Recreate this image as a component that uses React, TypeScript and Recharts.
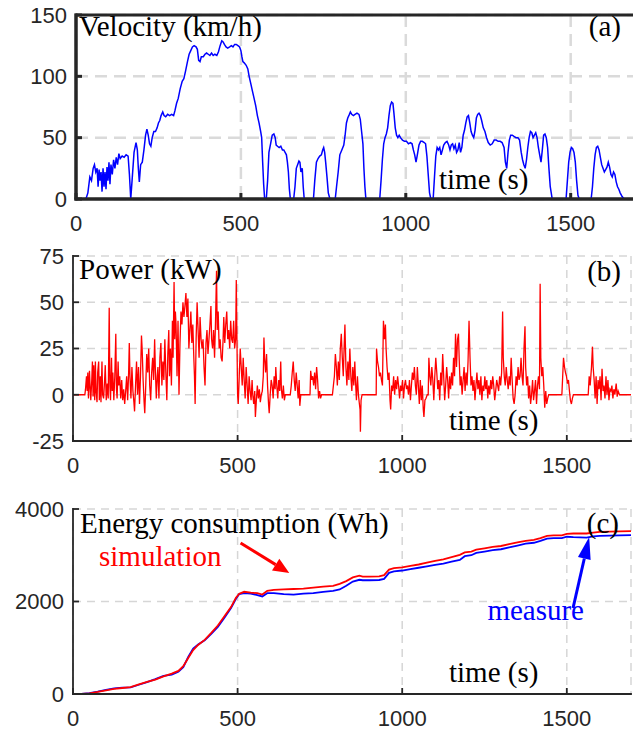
import React from 'react';
import { LineChart, Line, XAxis, YAxis, CartesianGrid, ReferenceLine, ReferenceArea } from 'recharts';

// ---------- axes / ticks ----------
const X_TICKS = [0, 500, 1000, 1500];
const X_MAX = 1695;
const VEL_TICKS = [0, 50, 100, 150];
const POW_TICKS = [-25, 0, 25, 50, 75];
const ENERGY_TICKS = [0, 2000, 4000];

// ---------- velocity (time s, km/h) ----------
const velocity: [number, number][] = [
  [0,0],[30,0],[36,5],[42,18],[47,15],[52,25],[56,28],[60,22],[64,25],[67,10],[70,24],[73,15],[76,22],[79,6],[82,25],[85,10],[88,22],[91,8],[94,26],[97,15],[100,30],[103,12],[106,28],[110,20],[114,32],[118,25],[122,34],[126,28],[130,37],[134,33],[140,35],[146,34],[152,36],[158,35],[162,20],[166,0],[170,15],[176,38],[182,46],[186,40],[189,25],[192,14],[196,28],[201,30],[206,40],[211,52],[215,57],[219,52],[223,45],[227,43],[231,50],[236,55],[241,55],[246,58],[250,62],[254,64],[258,68],[263,71],[267,68],[272,67],[278,69],[284,68],[290,69],[296,68],[300,72],[305,78],[310,82],[316,90],[322,96],[327,98],[332,104],[338,112],[343,118],[348,121],[353,124],[358,125],[364,124],[368,122],[372,113],[376,112],[380,116],[386,116],[391,118],[396,119],[401,118],[406,117],[411,119],[416,117],[421,118],[427,117],[432,120],[437,125],[442,129],[446,128],[450,126],[455,124],[460,123],[466,124],[471,125],[476,124],[481,126],[486,126],[491,125],[496,124],[500,121],[503,116],[506,112],[510,111],[516,109],[521,106],[525,100],[530,94],[535,88],[540,82],[545,76],[550,68],[555,62],[560,55],[563,50],[566,30],[569,12],[572,0],[577,0],[581,15],[585,38],[590,45],[595,52],[600,53],[604,50],[607,44],[611,43],[616,42],[621,43],[626,40],[630,40],[634,38],[638,36],[641,30],[644,22],[647,8],[650,0],[660,0],[664,10],[668,25],[672,28],[676,31],[679,30],[682,22],[686,25],[689,10],[692,0],[720,0],[724,15],[729,30],[734,33],[739,35],[744,36],[748,40],[751,42],[754,38],[757,30],[761,18],[765,5],[770,0],[786,0],[790,10],[795,22],[800,36],[806,40],[812,44],[816,52],[820,62],[824,66],[829,69],[832,71],[836,69],[841,68],[846,69],[852,70],[858,69],[862,65],[866,55],[870,45],[873,25],[876,10],[879,0],[921,0],[925,15],[929,32],[933,45],[937,50],[941,53],[945,58],[949,68],[953,76],[957,79],[961,78],[964,70],[968,58],[972,52],[976,50],[980,52],[984,50],[990,48],[996,47],[1002,47],[1008,45],[1014,46],[1019,45],[1023,40],[1027,36],[1031,30],[1035,36],[1040,44],[1045,47],[1050,47],[1056,46],[1060,45],[1064,35],[1068,20],[1072,5],[1076,0],[1083,0],[1087,18],[1091,35],[1095,42],[1099,40],[1103,42],[1107,36],[1111,40],[1115,44],[1120,46],[1125,47],[1130,44],[1134,40],[1138,44],[1142,45],[1146,41],[1150,44],[1154,38],[1158,40],[1162,46],[1166,38],[1170,42],[1174,52],[1178,56],[1182,62],[1186,67],[1190,68],[1194,62],[1198,55],[1202,52],[1206,50],[1210,56],[1214,66],[1218,69],[1222,70],[1226,68],[1230,64],[1235,58],[1240,55],[1245,50],[1250,46],[1256,44],[1262,45],[1268,48],[1274,48],[1280,47],[1286,47],[1292,46],[1298,42],[1302,30],[1306,25],[1310,38],[1314,48],[1318,52],[1323,52],[1328,51],[1334,50],[1340,50],[1345,48],[1350,38],[1354,32],[1358,28],[1362,25],[1366,32],[1370,42],[1374,50],[1378,55],[1382,54],[1386,50],[1390,52],[1394,54],[1398,50],[1402,42],[1406,36],[1410,30],[1414,40],[1418,52],[1422,53],[1426,50],[1430,42],[1434,25],[1438,10],[1444,0],[1486,0],[1490,15],[1494,30],[1498,38],[1502,42],[1506,41],[1510,38],[1514,30],[1518,15],[1522,3],[1526,0],[1562,0],[1566,10],[1570,25],[1574,36],[1578,42],[1582,43],[1586,40],[1590,34],[1594,28],[1598,25],[1602,22],[1606,24],[1610,26],[1614,30],[1618,26],[1622,20],[1626,18],[1630,22],[1634,20],[1638,14],[1642,10],[1646,8],[1650,5],[1656,2],[1662,0],[1695,0]
];

// ---------- power (time s, kW) ----------
const power: [number, number][] = [
  [0,0],[36,0],[38,3],[41,10],[43,2],[45,12],[47,-2],[50,13],[52,4],[54,-3],[57,8],[59,18],[61,-1],[63,16],[66,-3],[68,18],[70,2],[73,-4],[75,12],[78,18],[80,-3],[83,10],[85,-4],[88,18],[90,0],[93,-2],[96,8],[98,16],[101,-3],[104,6],[107,-2],[110,47],[112,5],[114,-3],[117,20],[119,2],[121,12],[124,-3],[127,10],[130,33],[132,3],[134,-2],[137,18],[139,5],[142,10],[145,-2],[148,8],[151,-3],[154,3],[157,-5],[160,2],[163,10],[166,-3],[169,12],[171,28],[173,10],[176,-2],[179,15],[182,2],[185,-4],[187,-9],[190,5],[193,18],[196,0],[199,15],[202,-5],[205,10],[208,32],[210,25],[213,8],[216,-4],[218,-10],[221,5],[224,22],[227,12],[230,25],[233,5],[236,-3],[239,12],[242,20],[245,8],[248,30],[250,15],[253,-2],[256,10],[258,15],[261,-2],[264,20],[267,28],[270,5],[273,18],[276,8],[279,30],[282,12],[285,-3],[288,22],[291,35],[293,10],[296,25],[299,5],[302,40],[304,20],[307,61],[309,30],[311,45],[313,38],[316,10],[319,40],[322,0],[325,28],[328,45],[331,38],[334,50],[337,42],[340,48],[343,55],[346,42],[349,52],[352,25],[355,35],[358,45],[361,28],[364,38],[367,20],[369,10],[371,-5],[374,30],[377,50],[380,35],[383,20],[386,42],[389,30],[392,25],[395,30],[398,15],[401,5],[404,28],[407,35],[410,22],[413,30],[416,38],[419,48],[421,30],[424,25],[427,35],[430,20],[433,40],[436,67],[438,35],[441,45],[444,25],[447,30],[450,20],[453,18],[456,30],[458,42],[461,28],[464,38],[467,45],[470,30],[473,35],[476,25],[479,40],[482,30],[485,28],[488,40],[491,25],[494,30],[496,62],[498,30],[500,0],[502,-5],[505,10],[508,25],[511,15],[514,5],[517,20],[520,8],[523,-2],[526,15],[529,5],[532,-5],[535,10],[538,2],[541,-3],[544,8],[546,0],[549,-5],[552,2],[554,-12],[557,-3],[560,5],[563,-2],[566,3],[569,-4],[572,0],[575,2],[578,10],[580,31],[582,20],[585,12],[588,22],[591,5],[594,-5],[596,-10],[599,0],[602,8],[605,5],[608,-2],[611,10],[614,3],[616,15],[619,5],[622,-2],[625,8],[628,2],[631,18],[633,3],[636,-2],[639,5],[642,-3],[645,0],[660,0],[663,5],[666,12],[669,18],[672,8],[675,2],[678,12],[681,5],[684,-2],[687,8],[689,-6],[692,0],[720,0],[722,13],[725,8],[728,10],[731,5],[734,12],[737,3],[740,15],[743,8],[746,-2],[749,2],[752,-2],[755,0],[788,0],[791,5],[794,10],[797,22],[800,15],[803,5],[806,18],[809,8],[812,25],[815,33],[818,20],[821,10],[824,28],[826,38],[829,15],[832,5],[835,18],[838,8],[841,25],[844,10],[847,2],[850,15],[853,5],[856,18],[858,8],[861,-3],[864,10],[867,0],[870,-5],[872,-8],[873,-20],[875,-3],[878,0],[921,0],[922,25],[925,18],[928,15],[931,10],[934,12],[937,8],[940,5],[943,40],[946,30],[949,38],[951,25],[954,15],[957,8],[960,12],[963,-3],[965,-8],[968,5],[971,2],[974,10],[977,0],[980,8],[983,3],[986,10],[989,5],[992,-2],[995,5],[998,2],[1001,8],[1004,-2],[1007,5],[1010,8],[1013,3],[1016,5],[1019,0],[1022,8],[1025,-3],[1028,5],[1031,12],[1034,8],[1037,15],[1040,5],[1043,0],[1046,15],[1049,5],[1052,-5],[1055,8],[1058,-3],[1061,5],[1064,-8],[1066,-12],[1069,-3],[1072,-2],[1076,0],[1079,0],[1081,20],[1084,10],[1087,5],[1090,15],[1093,8],[1096,-3],[1099,10],[1102,20],[1105,12],[1108,3],[1111,8],[1114,-3],[1117,12],[1120,5],[1123,22],[1126,10],[1129,-3],[1132,5],[1135,15],[1138,8],[1141,-2],[1144,10],[1147,3],[1150,12],[1153,5],[1156,20],[1159,10],[1162,33],[1165,15],[1168,30],[1171,33],[1173,20],[1176,5],[1179,10],[1182,0],[1185,8],[1188,15],[1191,2],[1194,12],[1197,5],[1200,18],[1203,40],[1206,20],[1209,5],[1212,10],[1215,2],[1218,8],[1221,-3],[1224,5],[1227,12],[1230,3],[1233,8],[1236,0],[1239,10],[1242,-3],[1245,5],[1248,2],[1251,10],[1254,3],[1257,8],[1260,-2],[1263,5],[1266,0],[1269,8],[1272,3],[1275,10],[1278,5],[1281,-3],[1284,2],[1287,8],[1290,5],[1293,2],[1296,10],[1299,5],[1302,12],[1305,45],[1307,20],[1310,10],[1313,5],[1316,15],[1319,8],[1322,3],[1325,10],[1328,5],[1331,20],[1334,8],[1337,-2],[1340,-5],[1343,0],[1346,10],[1349,5],[1352,15],[1355,8],[1358,10],[1361,20],[1364,10],[1367,5],[1370,25],[1373,37],[1375,15],[1378,5],[1381,10],[1384,-2],[1387,5],[1390,-5],[1393,0],[1396,8],[1399,-3],[1402,2],[1405,8],[1408,-5],[1411,5],[1414,10],[1417,3],[1419,60],[1421,20],[1424,10],[1427,15],[1430,5],[1433,-7],[1436,2],[1439,-5],[1442,-2],[1445,0],[1485,0],[1488,12],[1490,20],[1493,15],[1496,12],[1499,10],[1502,6],[1505,8],[1508,2],[1511,-3],[1514,-5],[1517,-2],[1520,0],[1565,0],[1568,10],[1571,5],[1575,15],[1578,26],[1580,15],[1583,8],[1586,-2],[1589,10],[1592,-5],[1595,8],[1598,3],[1601,10],[1604,-3],[1607,14],[1610,2],[1613,5],[1616,-2],[1619,10],[1622,0],[1625,8],[1628,-3],[1631,3],[1634,2],[1637,5],[1640,-2],[1643,3],[1646,0],[1650,6],[1653,-1],[1656,2],[1660,0],[1695,0]
];

// ---------- energy (Wh) ----------
const energyTime = [0,25,50,75,100,125,150,175,200,225,250,275,300,320,335,350,365,380,400,420,440,460,480,495,505,520,540,560,575,590,610,640,670,700,730,760,790,810,830,850,870,880,900,930,945,960,975,1000,1025,1050,1075,1100,1125,1150,1175,1190,1210,1225,1250,1275,1300,1325,1350,1375,1400,1420,1440,1460,1485,1500,1520,1560,1580,1600,1630,1660,1695];
const energySimulation = [0,3,15,45,80,110,130,150,210,260,310,380,440,500,600,780,950,1060,1170,1320,1480,1680,1880,2080,2170,2210,2190,2180,2150,2230,2250,2260,2270,2280,2300,2320,2340,2380,2440,2520,2560,2540,2540,2545,2570,2690,2720,2740,2770,2800,2840,2880,2910,2960,3010,3060,3080,3120,3150,3180,3200,3240,3280,3310,3330,3370,3420,3430,3430,3460,3470,3470,3490,3505,3510,3515,3520];
const energyMeasure = [0,3,18,50,90,120,140,145,200,255,320,390,420,480,580,800,980,1070,1160,1300,1450,1650,1860,2060,2160,2180,2170,2140,2110,2180,2180,2160,2150,2170,2180,2210,2230,2260,2340,2430,2470,2460,2460,2465,2490,2620,2650,2670,2700,2730,2760,2790,2820,2860,2900,2980,3000,3050,3080,3110,3130,3170,3210,3250,3270,3310,3360,3370,3370,3400,3390,3380,3410,3420,3425,3430,3435];

// arrows (data coordinates of panel c): [tail, tip]
const simArrow = [{ x: 509, y: 3265 }, { x: 657, y: 2616 }];
const measArrow = [{ x: 1519, y: 1859 }, { x: 1568, y: 3394 }];

const velData = velocity.map(([t, v]) => ({ t, v }));
const powData = power.map(([t, p]) => ({ t, p }));
const energyData = energyTime.map((t, i) => ({ t, sim: energySimulation[i], meas: energyMeasure[i] }));

const AX = '#262626';
const tickStyle = { fill: '#262626', fontSize: 22, fontFamily: '"Liberation Sans", Arial, sans-serif' };
const serif = '"Liberation Serif", "Times New Roman", serif';

function makeArrow(color: string, headLen: number, headW: number, lw: number) {
  return (p: any) => {
    const { x1, y1, x2, y2 } = p;
    const dx = x2 - x1, dy = y2 - y1;
    const L = Math.hypot(dx, dy) || 1;
    const ux = dx / L, uy = dy / L;
    const bx = x2 - ux * headLen, by = y2 - uy * headLen;
    const nx = -uy, ny = ux;
    return (
      <g>
        <line x1={x1} y1={y1} x2={bx} y2={by} stroke={color} strokeWidth={lw} />
        <polygon
          points={`${x2},${y2} ${bx + (nx * headW) / 2},${by + (ny * headW) / 2} ${bx - (nx * headW) / 2},${by - (ny * headW) / 2}`}
          fill={color}
        />
      </g>
    );
  };
}

function axes(yDomain: [number, number], yTicks: number[], frameW: number, xHeight: number, yWidth: number) {
  const line = { stroke: AX, strokeWidth: frameW, strokeLinecap: 'square' as const };
  const tl = { stroke: AX, strokeWidth: frameW };
  return [
    <XAxis key="xb" dataKey="t" type="number" domain={[0, X_MAX]} ticks={X_TICKS} interval={0} allowDataOverflow
      height={xHeight} tickSize={-6} tickMargin={22} tick={tickStyle} axisLine={line} tickLine={tl} />,
    <XAxis key="xt" xAxisId="top" orientation="top" dataKey="t" type="number" domain={[0, X_MAX]} ticks={X_TICKS} interval={0}
      allowDataOverflow height={0} tickSize={-6} tick={false} axisLine={line} tickLine={tl} />,
    <YAxis key="yl" type="number" domain={yDomain} ticks={yTicks} interval={0} allowDataOverflow width={yWidth}
      tickSize={-6} tickMargin={15} tick={tickStyle} axisLine={line} tickLine={tl} />,
    <YAxis key="yr" yAxisId="right" orientation="right" type="number" domain={yDomain} ticks={yTicks} interval={0}
      allowDataOverflow width={0} tickSize={-6} tick={false} axisLine={line} tickLine={tl} />,
  ];
}

export default function App() {
  return (
    <div style={{ position: 'absolute', left: 0, top: 0, width: 633, height: 733, overflow: 'hidden', background: '#fff' }}>
      {/* Panel (a) */}
      <div style={{ position: 'absolute', left: 0, top: 0 }}>
        <LineChart width={640} height={240} data={velData} margin={{ top: 15, right: 5, bottom: 0, left: 0 }}>
          <CartesianGrid stroke="#dadada" strokeWidth={2.5} strokeDasharray="12 7" />
          {axes([0, 150], VEL_TICKS, 3, 41, 76)}
          <Line type="linear" dataKey="v" stroke="#0000ff" strokeWidth={1.5} dot={false} isAnimationActive={false} />
          <ReferenceArea x1={0} x2={X_MAX} y1={0} y2={150} fill="none" fillOpacity={0} stroke={AX} strokeWidth={3} ifOverflow="visible" />
        </LineChart>
      </div>
      {/* Panel (b) */}
      <div style={{ position: 'absolute', left: 0, top: 240 }}>
        <LineChart width={633} height={240} data={powData} margin={{ top: 16, right: 2, bottom: 0, left: 0 }}>
          <CartesianGrid stroke="#d6d6d6" strokeWidth={1.5} strokeDasharray="8 6" />
          {axes([-25, 75], POW_TICKS, 1.8, 39, 73)}
          <Line type="linear" dataKey="p" stroke="#ff0000" strokeWidth={1.3} dot={false} isAnimationActive={false} />
        </LineChart>
      </div>
      {/* Panel (c) */}
      <div style={{ position: 'absolute', left: 0, top: 480 }}>
        <LineChart width={633} height={253} data={energyData} margin={{ top: 29, right: 2, bottom: 0, left: 0 }}>
          <CartesianGrid stroke="#d6d6d6" strokeWidth={1.5} strokeDasharray="8 6" />
          {axes([0, 4000], ENERGY_TICKS, 1.8, 39, 73)}
          <Line type="linear" dataKey="meas" stroke="#0000ff" strokeWidth={1.8} dot={false} isAnimationActive={false} />
          <Line type="linear" dataKey="sim" stroke="#ff0000" strokeWidth={1.8} dot={false} isAnimationActive={false} />
          <ReferenceLine segment={simArrow} shape={makeArrow('#ff0000', 16, 14, 3)} />
          <ReferenceLine segment={measArrow} shape={makeArrow('#0000ff', 22, 13, 3)} />
        </LineChart>
      </div>
      {/* Text annotations */}
      <svg width={633} height={733} style={{ position: 'absolute', left: 0, top: 0, pointerEvents: 'none' }}>
        <g fontFamily={serif} fontSize={29} fill="#000">
          <text x={79} y={36}>Velocity (km/h)</text>
          <text x={621} y={36} textAnchor="end">(a)</text>
          <text x={439} y={189}>time (s)</text>
          <text x={79} y={279}>Power (kW)</text>
          <text x={621} y={281} textAnchor="end">(b)</text>
          <text x={449} y={430}>time (s)</text>
          <text x={80} y={533}>Energy consumption (Wh)</text>
          <text x={619} y={533} textAnchor="end">(c)</text>
          <text x={99} y={566} fill="#ff0000">simulation</text>
          <text x={584} y={620} textAnchor="end" fill="#0000ff">measure</text>
          <text x={449} y={682}>time (s)</text>
        </g>
      </svg>
    </div>
  );
}
